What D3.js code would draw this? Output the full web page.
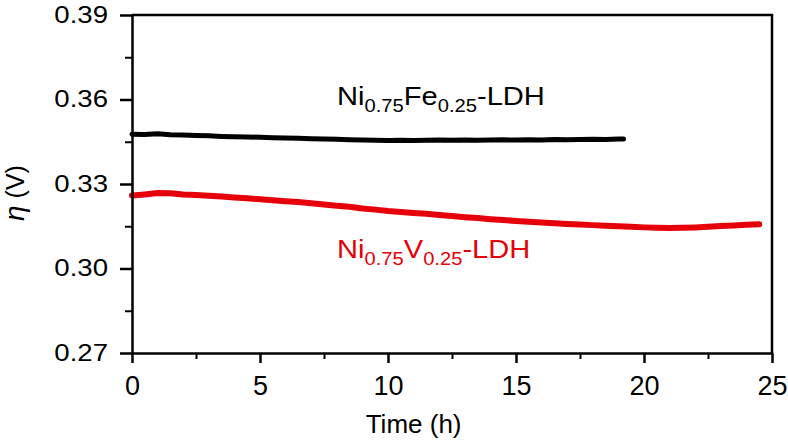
<!DOCTYPE html>
<html>
<head>
<meta charset="utf-8">
<style>
  body { margin: 0; background: #fff; }
  text { font-family: "Liberation Sans", Arial, sans-serif; }
</style>
<title>eta vs time</title>
</head>
<body>
<script src="https://cdn.jsdelivr.net/npm/d3@7"></script>
<script>
// data (time in h, overpotential in V)
var feTime = [0, 0.5, 1, 1.5, 2, 2.5, 3, 3.5, 4, 4.5, 5, 5.5, 6, 6.5, 7, 7.5, 8, 8.5, 9, 9.5,
              10, 10.5, 11, 11.5, 12, 12.5, 13, 13.5, 14, 14.5, 15, 15.5, 16, 16.5, 17, 17.5, 18, 18.5, 19, 19.2];
var feEta  = [0.3477, 0.3476, 0.3478, 0.3475, 0.3474, 0.3472, 0.3471, 0.3469, 0.3468, 0.3467,
              0.3466, 0.3464, 0.3463, 0.3462, 0.3461, 0.3460, 0.3459, 0.3457, 0.3456, 0.3455,
              0.3454, 0.3455, 0.3454, 0.3455, 0.3456, 0.3455, 0.3456, 0.3455, 0.3456, 0.3457,
              0.3456, 0.3457, 0.3456, 0.3458, 0.3457, 0.3458, 0.3459, 0.3458, 0.3460, 0.3460];

var vTime = [0, 0.5, 1, 1.5, 2, 2.5, 3, 3.5, 4, 4.5, 5, 5.5, 6, 6.5, 7, 7.5, 8, 8.5, 9, 9.5,
             10, 10.5, 11, 11.5, 12, 12.5, 13, 13.5, 14, 14.5, 15, 15.5, 16, 16.5, 17, 17.5, 18, 18.5, 19, 19.5,
             20, 20.5, 21, 21.5, 22, 22.5, 23, 23.5, 24, 24.5];
var vEta  = [0.3259, 0.3263, 0.3268, 0.3267, 0.3263, 0.3261, 0.3258, 0.3256, 0.3252, 0.3249,
             0.3246, 0.3242, 0.3239, 0.3236, 0.3232, 0.3227, 0.3223, 0.3219, 0.3213, 0.3209,
             0.3204, 0.3201, 0.3197, 0.3194, 0.3190, 0.3186, 0.3182, 0.3179, 0.3175, 0.3172,
             0.3169, 0.3166, 0.3163, 0.3161, 0.3158, 0.3156, 0.3154, 0.3152, 0.3150, 0.3148,
             0.3146, 0.3145, 0.3144, 0.3145, 0.3146, 0.3148, 0.3151, 0.3153, 0.3155, 0.3157];

var xTicks = [0, 5, 10, 15, 20, 25];
var xMinor = [2.5, 7.5, 12.5, 17.5, 22.5];
var yTicks = [0.27, 0.30, 0.33, 0.36, 0.39];
var yMinor = [0.285, 0.315, 0.345, 0.375];

var W = 788, H = 447;
var margin = {top: 15, right: 16, bottom: 94, left: 132};
var width = W - margin.left - margin.right,
    height = H - margin.top - margin.bottom;

var x = d3.scaleLinear().domain([0, 25]).range([0, width]);
var y = d3.scaleLinear().domain([0.27, 0.39]).range([height, 0]);

var svg = d3.select("body").append("svg")
  .attr("width", W).attr("height", H)
  .append("g").attr("transform", "translate(" + margin.left + "," + margin.top + ")");

// traces
var line = d3.line().x(function(d) { return x(d[0]); }).y(function(d) { return y(d[1]); });
svg.append("path")
  .datum(d3.zip(feTime, feEta))
  .attr("d", line).attr("fill", "none").attr("stroke", "#000")
  .attr("stroke-width", 5).attr("stroke-linejoin", "round").attr("stroke-linecap", "round");
svg.append("path")
  .datum(d3.zip(vTime, vEta))
  .attr("d", line).attr("fill", "none").attr("stroke", "#e6000a")
  .attr("stroke-width", 6).attr("stroke-linejoin", "round").attr("stroke-linecap", "round");

// frame (top + right)
svg.append("path")
  .attr("d", "M0,0H" + width + "V" + height)
  .attr("fill", "none").attr("stroke", "#000").attr("stroke-width", 2.5);

// minor ticks
svg.append("g").attr("transform", "translate(0," + height + ")")
  .call(d3.axisBottom(x).tickValues(xMinor).tickSize(6).tickFormat(""))
  .call(function(g) { g.select(".domain").remove(); g.selectAll("line").attr("stroke-width", 2); });
svg.append("g")
  .call(d3.axisLeft(y).tickValues(yMinor).tickSize(7).tickFormat(""))
  .call(function(g) { g.select(".domain").remove(); g.selectAll("line").attr("stroke-width", 2); });

// x axis
svg.append("g").attr("transform", "translate(0," + height + ")")
  .call(d3.axisBottom(x).tickValues(xTicks).tickSize(10).tickSizeOuter(0).tickPadding(13))
  .call(function(g) {
    g.select(".domain").attr("stroke-width", 2.5);
    g.selectAll("line").attr("stroke-width", 2.5);
    g.selectAll("text").attr("font-size", 27).attr("fill", "#000")
      .attr("font-family", "Liberation Sans, Arial, sans-serif");
  });

// y axis (labels a bit wide in the original)
svg.append("g")
  .call(d3.axisLeft(y).tickValues(yTicks).tickSize(12).tickSizeOuter(0).tickPadding(12)
        .tickFormat(d3.format(".2f")))
  .call(function(g) {
    g.select(".domain").attr("stroke-width", 2.5);
    g.selectAll("line").attr("stroke-width", 2.5);
    g.selectAll("text").attr("font-size", 23).attr("fill", "#000")
      .attr("font-family", "Liberation Sans, Arial, sans-serif")
      .attr("x", null)
      .attr("transform", "translate(-24,0) scale(1.2,1)");
  });

// axis titles
svg.append("text")
  .attr("x", x(11.0)).attr("y", height + 80)
  .attr("text-anchor", "middle").attr("font-size", 26)
  .text("Time (h)");

var yl = svg.append("text")
  .attr("transform", "translate(" + (-108) + "," + (height / 2 + 9) + ") rotate(-90)")
  .attr("text-anchor", "middle").attr("font-size", 25);
yl.append("tspan").attr("font-style", "italic").attr("font-size", 28).text("\u03b7");
yl.append("tspan").text(" (V)");

// series labels
function label(parts, xPos, yPos, color) {
  var t = svg.append("text")
    .attr("transform", "translate(" + xPos + "," + yPos + ") scale(1.12,1)")
    .attr("font-size", 26).attr("fill", color);
  parts.forEach(function(p) {
    t.append("tspan").attr("font-size", p[1] ? 18 : 26)
      .attr("dy", p[1] ? 7 : (t.node().childNodes.length ? -7 : 0))
      .text(p[0]);
  });
}
label([["Ni"], ["0.75", 1], ["Fe"], ["0.25", 1], ["-LDH"]], 205, 97, "#000");
label([["Ni"], ["0.75", 1], ["V"], ["0.25", 1], ["-LDH"]], 205, 250, "#e6000a");
</script>
</body>
</html>
